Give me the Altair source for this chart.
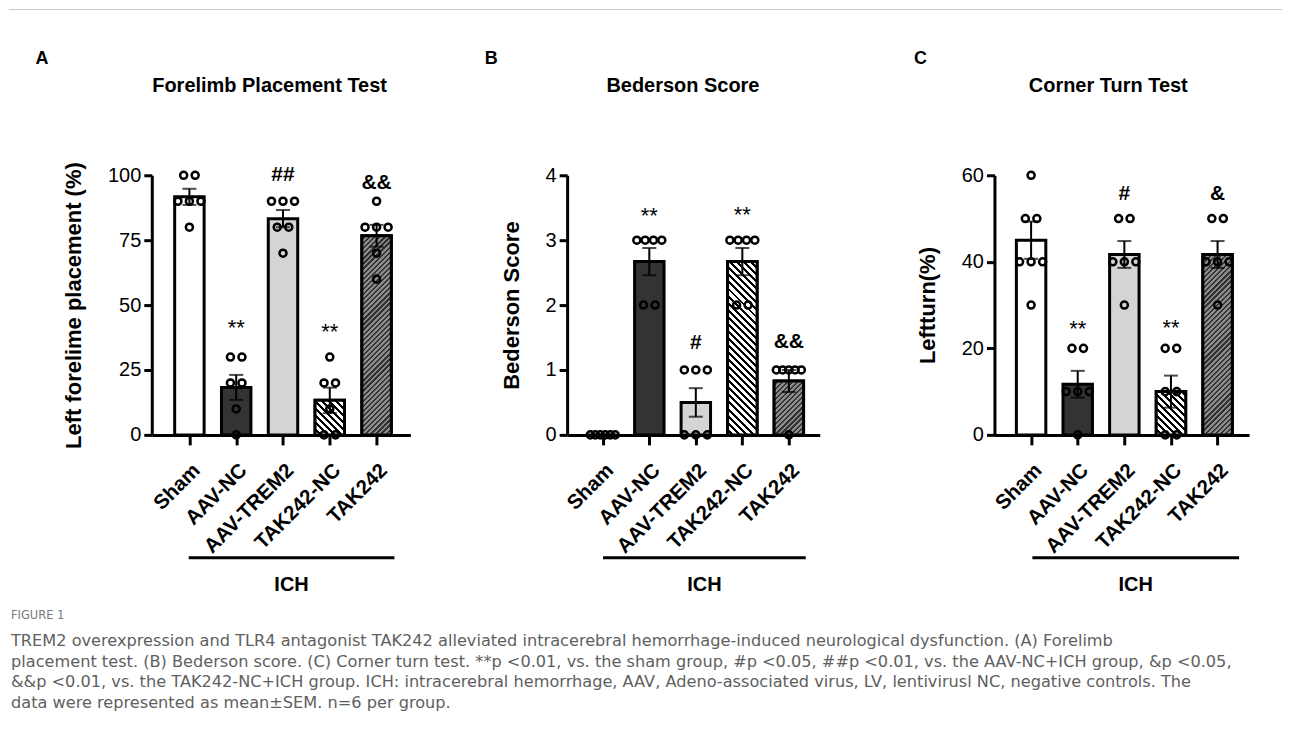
import json
import math
from collections import Counter

import altair as alt
import pandas as pd

# ---------------- data ----------------
groups = ["Sham", "AAV-NC", "AAV-TREM2", "TAK242-NC", "TAK242"]
bar_fill = ["#ffffff", "#333333", "#d4d4d4", "#ffffff", "#8c8c8c"]

# A: Forelimb placement test
fpt_points = [
    [100, 100, 90, 90, 90, 80],
    [30, 30, 20, 20, 10, 0],
    [90, 90, 90, 80, 80, 70],
    [30, 20, 20, 10, 0, 0],
    [90, 80, 80, 80, 70, 60],
]
fpt_mean = [91.7, 18.3, 83.3, 13.3, 76.7]
fpt_sem = [3.1, 4.8, 3.3, 4.9, 4.2]
fpt_marks = ["", "**", "##", "**", "&&"]
fpt_mark_y = [0, 43, 100, 41.5, 97]
fpt_ticks = [0, 25, 50, 75, 100]

# B: Bederson score
bs_points = [
    [0, 0, 0, 0, 0, 0],
    [3, 3, 3, 3, 2, 2],
    [1, 1, 1, 0, 0, 0],
    [3, 3, 3, 3, 2, 2],
    [1, 1, 1, 1, 1, 0],
]
bs_mean = [0, 2.67, 0.5, 2.67, 0.83]
bs_sem = [0, 0.21, 0.22, 0.21, 0.17]
bs_marks = ["", "**", "#", "**", "&&"]
bs_mark_y = [0, 3.45, 1.42, 3.46, 1.43]
bs_ticks = [0, 1, 2, 3, 4]

# C: Corner turn test
ct_points = [
    [60, 50, 50, 40, 40, 40, 30],
    [20, 20, 10, 10, 10, 0],
    [50, 50, 40, 40, 40, 30],
    [20, 20, 10, 10, 0, 0],
    [50, 50, 40, 40, 40, 30],
]
ct_mean = [45, 11.7, 41.7, 10, 41.7]
ct_sem = [4.3, 3.1, 3.1, 3.7, 3.1]
ct_marks = ["", "**", "#", "**", "&"]
ct_mark_y = [0, 25.7, 55.7, 25.8, 55.7]
ct_ticks = [0, 20, 40, 60]

caption_lines = [
    "TREM2 overexpression and TLR4 antagonist TAK242 alleviated intracerebral hemorrhage-induced neurological dysfunction. (A) Forelimb",
    "placement test. (B) Bederson score. (C) Corner turn test. **p <0.01, vs. the sham group, #p <0.05, ##p <0.01, vs. the AAV-NC+ICH group, &p <0.05,",
    "&&p <0.01, vs. the TAK242-NC+ICH group. ICH: intracerebral hemorrhage, AAV, Adeno-associated virus, LV, lentivirusl NC, negative controls. The",
    "data were represented as mean\u00b1SEM. n=6 per group.",
]

# ---------------- styling / layout ----------------
FONT = "Liberation Sans"
H = 260
BAR_W = 29.5
one = pd.DataFrame({"a": [0]})


def hatch(w, h, direction, bg, fg, period, frac):
    L = (w + h) / math.sqrt(2)
    dt = period / L
    stops = []
    i = 0
    while i * dt < 1:
        t0 = i * dt
        t1 = min(t0 + dt * (1 - frac), 1)
        t2 = min(t0 + dt, 1)
        stops += [
            {"offset": round(t0, 5), "color": bg},
            {"offset": round(t1, 5), "color": bg},
            {"offset": round(t1, 5), "color": fg},
            {"offset": round(t2, 5), "color": fg},
        ]
        i += 1
    k = (w + h) / (w * w + h * h)
    if direction == "/":
        x1, y1, x2, y2 = 0, 0, k * w, k * h
    else:
        x1, y1, x2, y2 = 0, 1, k * w, 1 - k * h
    return {"gradient": "linear", "x1": x1, "y1": y1, "x2": x2, "y2": y2, "stops": stops}


HATCH = {3: ("\\", "#ffffff", "#000000", 5.0, 0.42), 4: ("/", "#8c8c8c", "#333333", 3.6, 0.45)}


def make_panel(title, ytitle, ymax, yticks, points, means, sems, marks, mark_y,
               letter, letter_x, title_x, ich_x, axis_len, view_w, c0, step, extras=()):
    xdom = [-c0 / step, (axis_len - c0) / step]
    xs = alt.Scale(domain=xdom, nice=False, zero=False, range=[0, axis_len])
    ys = alt.Scale(domain=[0, ymax], nice=False, zero=True)
    xaxis = alt.Axis(
        values=[0, 1, 2, 3, 4], labelExpr=json.dumps(groups) + "[datum.value]", title=None,
        labelAngle=-45, labelAlign="right", labelBaseline="top", labelFont=FONT,
        labelFontWeight="bold", labelFontSize=20.5, labelColor="black", labelPadding=15,
        labelFlush=False, labelOverlap=False, domainColor="black", domainWidth=3,
        tickColor="black", tickWidth=3, tickSize=10, grid=False)
    yaxis = alt.Axis(
        values=yticks, title=ytitle, titleFont=FONT, titleFontSize=22, titleFontWeight="bold",
        titleColor="black", titlePadding=22, labelFont=FONT, labelFontSize=20,
        labelColor="black", labelPadding=3, labelFlush=False, tickSize=8, tickWidth=3,
        tickColor="black", domainColor="black", domainWidth=3, grid=False)

    def X(f):
        return alt.X(f, type="quantitative", scale=xs, axis=xaxis)

    def Y(f):
        return alt.Y(f, type="quantitative", scale=ys, axis=yaxis)

    bars = pd.DataFrame({
        "x": list(range(5)), "group": groups, "y": means,
        "lo": [m - s for m, s in zip(means, sems)],
        "hi": [m + s for m, s in zip(means, sems)],
    })
    rows = []
    for gi, vals in enumerate(points):
        cnt = Counter(vals)
        seen = Counter()
        for v in vals:
            k = cnt[v]
            sp = min(12.0, 26.0 / (k - 1)) if k > 1 else 0
            off = (seen[v] - (k - 1) / 2) * sp
            seen[v] += 1
            rows.append({"x": gi + off / step, "y": v})
    pts = pd.DataFrame(rows)
    ann = pd.DataFrame({"x": list(range(5)), "y": mark_y, "t": marks})
    ann = ann[ann["t"] != ""]

    layers = [
        alt.Chart(bars).mark_bar(width=BAR_W, stroke="black", strokeWidth=3, orient="vertical")
        .encode(x=X("x"), y=Y("y"), y2=alt.datum(0),
                fill=alt.Fill("group:N", scale=alt.Scale(domain=groups, range=bar_fill), legend=None))
    ]
    for gi, (d, bg, fg, per, fr) in HATCH.items():
        hpx = means[gi] / ymax * H
        if hpx <= 1:
            continue
        grad = hatch(BAR_W, hpx, d, bg, fg, per, fr)
        layers.append(
            alt.Chart(bars).transform_filter(alt.datum.group == groups[gi])
            .mark_bar(width=BAR_W, stroke="black", strokeWidth=3, orient="vertical", fill=grad)
            .encode(x=X("x"), y=Y("y"), y2=alt.datum(0))
        )
    layers.append(
        alt.Chart(pts).mark_point(shape="circle", filled=False, size=50, strokeWidth=2.5,
                                  color="black", opacity=1)
        .encode(x=X("x"), y=Y("y"))
    )
    layers.append(
        alt.Chart(bars).mark_rule(color="black", strokeWidth=2)
        .encode(x=X("x"), y=Y("lo"), y2="hi")
    )
    for f in ["lo", "hi"]:
        layers.append(
            alt.Chart(bars).mark_tick(color="black", thickness=2, size=14, orient="horizontal")
            .encode(x=X("x"), y=Y(f))
        )
    star = ann[ann["t"] == "**"]
    other = ann[ann["t"] != "**"]
    if len(star):
        layers.append(
            alt.Chart(star).mark_text(font=FONT, fontSize=22, color="black", baseline="middle", dy=5)
            .encode(x=X("x"), y=Y("y"), text="t:N")
        )
    if len(other):
        layers.append(
            alt.Chart(other).mark_text(font=FONT, fontSize=21, fontWeight="bold", color="black",
                                       baseline="middle")
            .encode(x=X("x"), y=Y("y"), text="t:N")
        )
    # ICH bracket and label
    layers.append(
        alt.Chart(one).mark_rule(color="black", strokeWidth=3)
        .encode(x=alt.value(ich_x[0]), x2=alt.value(ich_x[1]), y=alt.value(H + 123))
    )
    layers.append(
        alt.Chart(one).mark_text(text="ICH", font=FONT, fontSize=20, fontWeight="bold",
                                 color="black", baseline="middle")
        .encode(x=alt.value((ich_x[0] + ich_x[1]) / 2), y=alt.value(H + 150))
    )
    # panel letter and panel title
    layers.append(
        alt.Chart(one).mark_text(text=letter, font=FONT, fontSize=18, fontWeight="bold",
                                 color="black", baseline="middle")
        .encode(x=alt.value(letter_x), y=alt.value(-116))
    )
    layers.append(
        alt.Chart(one).mark_text(text=title, font=FONT, fontSize=20, fontWeight="bold",
                                 color="black", baseline="middle")
        .encode(x=alt.value(title_x), y=alt.value(-89))
    )
    layers.extend(extras)
    return alt.layer(*layers).properties(width=view_w, height=H)


# frame line on top and figure caption (placed relative to panel A's plot origin)
top_rule = alt.Chart(one).mark_rule(color="#c8c8c8", strokeWidth=1).encode(
    x=alt.value(-143), x2=alt.value(1132), y=alt.value(-166))
fig_label = alt.Chart(one).mark_text(text="FIGURE 1", font="DejaVu Sans", fontSize=11.5,
                                     color="#7a7a7a", align="left", baseline="middle").encode(
    x=alt.value(-141), y=alt.value(441))
body = alt.Chart(one).mark_text(text=caption_lines, font="DejaVu Sans", fontSize=16.2,
                                color="#606060", align="left", baseline="top",
                                lineHeight=21).encode(x=alt.value(-141), y=alt.value(458))

pA = make_panel("Forelimb Placement Test", "Left forelime placement (%)", 100, fpt_ticks,
                fpt_points, fpt_mean, fpt_sem, fpt_marks, fpt_mark_y, "A", -110, 118, (37, 243),
                259, 259, 34, 48.75, extras=(top_rule, fig_label, body))
pB = make_panel("Bederson Score", "Bederson Score", 4, bs_ticks, bs_points, bs_mean, bs_sem,
                bs_marks, bs_mark_y, "B", -76, 116, (36, 239), 253, 271, 32, 48.5)
pC = make_panel("Corner Turn Test", "Leftturn(%)", 60, ct_ticks, ct_points, ct_mean, ct_sem,
                ct_marks, ct_mark_y, "C", -74, 114, (38, 245), 255, 255, 33, 48.6)

chart = alt.concat(pA, pB, pC, columns=3, spacing=157, bounds="flush", align="none").properties(
    padding={"left": 0, "top": 0, "right": 0, "bottom": 0}
).configure(background="white").configure_view(stroke=None)

chart.save("out.html", embed_options={"renderer": "svg", "actions": False})
